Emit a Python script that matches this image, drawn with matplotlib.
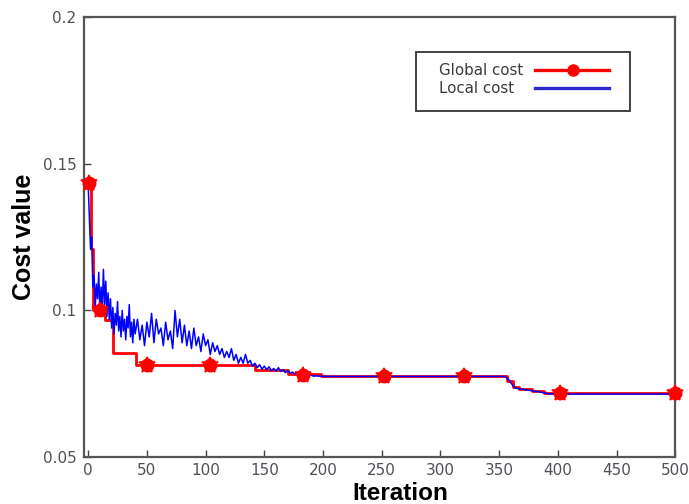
import matplotlib
matplotlib.use("Agg")
import matplotlib.pyplot as plt
from matplotlib.lines import Line2D
from matplotlib.patches import Rectangle

# ---- data ----
global_x = [0, 2, 4, 14, 21, 41, 142, 170, 198, 357, 362, 367, 378, 388, 500]
global_y = [0.143, 0.121, 0.100, 0.0966, 0.0856, 0.0813, 0.0796, 0.0782, 0.0778,
            0.0760, 0.0740, 0.0733, 0.0725, 0.0717, 0.0717]

marker_x = [1, 10, 50, 104, 183, 252, 320, 402, 500]
marker_y = [0.1435, 0.100, 0.0813, 0.0813, 0.0781, 0.0778, 0.0778, 0.0717, 0.0717]

local_x = list(range(0, 41)) + list(range(42, 201, 2)) + [
    250, 300, 355, 358, 361, 364, 370, 378, 385, 392, 400, 450, 500]
local_y = [
    0.143, 0.132, 0.121, 0.125, 0.108, 0.112, 0.101, 0.109, 0.104, 0.113,
    0.099, 0.108, 0.100, 0.114, 0.102, 0.110, 0.098, 0.106, 0.097, 0.104,
    0.094, 0.101, 0.092, 0.099, 0.095, 0.103, 0.093, 0.098, 0.091, 0.100,
    0.093, 0.097, 0.090, 0.098, 0.094, 0.102, 0.091, 0.096, 0.089, 0.097,
    0.092,
    0.097, 0.090, 0.095, 0.088, 0.096, 0.091, 0.099, 0.089, 0.097, 0.092,
    0.094, 0.088, 0.096, 0.090, 0.093, 0.087, 0.100, 0.091, 0.097, 0.089,
    0.095, 0.088, 0.093, 0.087, 0.094, 0.088, 0.091, 0.086, 0.092, 0.088,
    0.090, 0.085, 0.089, 0.086, 0.088, 0.085, 0.087, 0.084, 0.086, 0.084,
    0.087, 0.083, 0.085, 0.082, 0.084, 0.082, 0.085, 0.082, 0.083, 0.081,
    0.082, 0.0805, 0.0815, 0.080, 0.081, 0.0798, 0.0808, 0.0795, 0.0802, 0.0793,
    0.0805, 0.0792, 0.0798, 0.0788, 0.0795, 0.0786, 0.079, 0.0784, 0.0786, 0.0781,
    0.0783, 0.0779, 0.078, 0.0778, 0.0779, 0.0776, 0.0777, 0.0776, 0.0776, 0.0775,
    0.0775, 0.0775, 0.0775, 0.0765, 0.0748, 0.0735, 0.0731, 0.0726, 0.0722, 0.0716,
    0.0715, 0.0715, 0.0715]

x_ticks = [0, 50, 100, 150, 200, 250, 300, 350, 400, 450, 500]
y_ticks = [0.05, 0.1, 0.15, 0.2]
y_tick_labels = ["0.05", "0.1", "0.15", "0.2"]
legend_labels = ['Global cost', 'Local cost']

plt.rcParams['font.family'] = ['DejaVu Sans']

fig = plt.figure(figsize=(6.89, 5.04), dpi=100)
ax = fig.add_axes([0.122, 0.093, 0.858, 0.873])

ax.step(global_x, global_y, where='post', color='#ff0000', lw=2.0, zorder=2)
ax.plot(local_x, local_y, color='#0000ff', lw=1.1, zorder=3)
ax.plot(marker_x, marker_y, ls='none', marker='o', ms=9, color='#ff0000',
        zorder=4, clip_on=False)
ax.plot(marker_x, marker_y, ls='none', marker='*', ms=12, mew=1.2, color='#ff0000',
        zorder=4, clip_on=False)

ax.set_xlim(-3.5, 500)
ax.set_ylim(0.05, 0.2)
ax.set_xticks(x_ticks)
ax.set_yticks(y_ticks)
ax.set_yticklabels(y_tick_labels)
ax.tick_params(direction='in', length=5, width=1, colors='#444444',
               labelsize=11, labelcolor='#505058', top=False, right=False)
ax.tick_params(axis='x', pad=4)
ax.tick_params(axis='y', pad=5.5)
for s in ax.spines.values():
    s.set_color('#555555')
    s.set_linewidth(1.6)

ax.set_xlabel('Iteration', fontsize=17.5, fontweight='bold',
              family='Liberation Sans')
ax.xaxis.set_label_coords(0.535, -0.056)
ax.set_ylabel('Cost value', fontsize=18, fontweight='bold',
              family='Liberation Sans')
ax.yaxis.set_label_coords(-0.082, 0.5)

# legend box (frame + entries), in axes coordinates
ax.add_patch(Rectangle((0.5618, 0.7864), 0.9239 - 0.5618, 0.9205 - 0.7864,
                       transform=ax.transAxes, facecolor='white',
                       edgecolor='#333333', lw=1.3, zorder=5))
row_y = [0.8795, 0.8385]
for lab, yy in zip(legend_labels, row_y):
    ax.text(0.6007, yy, lab, transform=ax.transAxes, ha='left', va='center',
            fontsize=10.8, color='#3a3a3a', zorder=6)
ax.add_line(Line2D([0.762, 0.888], [row_y[0], row_y[0]], transform=ax.transAxes,
                   color='#ff0000', lw=2.4, zorder=6))
ax.add_line(Line2D([0.8274], [row_y[0]], transform=ax.transAxes, ls='none',
                   marker='o', ms=8, color='#ff0000', zorder=7))
ax.add_line(Line2D([0.762, 0.888], [row_y[1], row_y[1]], transform=ax.transAxes,
                   color='#2a2ad0', lw=2.4, zorder=6))

fig.savefig('out.png', dpi=100)
